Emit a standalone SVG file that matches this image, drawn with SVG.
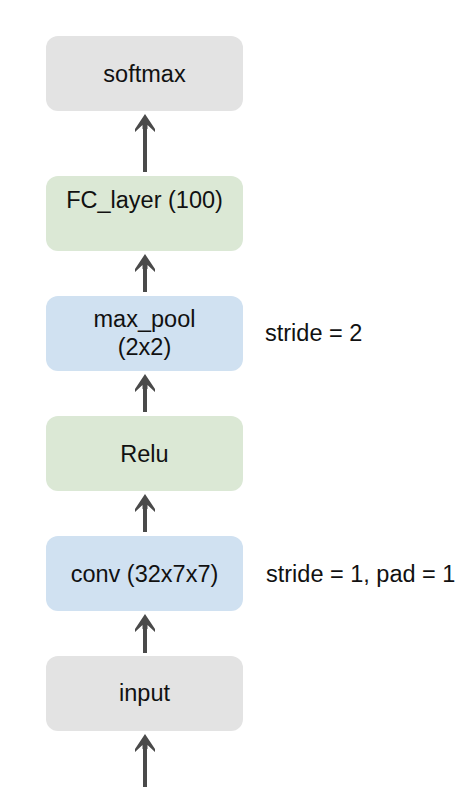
<svg xmlns="http://www.w3.org/2000/svg" width="476" height="804" viewBox="0 0 476 804">
<style>
.box{stroke:none}
.grey{fill:#e3e3e3}
.green{fill:#dbe8d5}
.blue{fill:#d0e1f1}
text{font-family:"Liberation Sans",Arial,sans-serif;font-size:23.5px;fill:#111}
.c{text-anchor:middle}
.ln{stroke:#4a4a4a;stroke-width:4;fill:none}
</style>
<defs>
<path id="head" d="M0,-1 L10,14 L10,17 L2.5,10 L2.5,14 L-2.5,14 L-2.5,10 L-10,17 L-10,14 Z" fill="#4a4a4a"/>
</defs>
<g id="softmax"><rect class="box grey" x="46" y="36" width="197" height="75" rx="12"/><text class="c" x="144.5" y="82">softmax</text></g>
<g id="fc"><rect class="box green" x="46" y="176" width="197" height="75" rx="12"/><text class="c" x="144.5" y="208">FC_layer (100)</text></g>
<g id="maxpool"><rect class="box blue" x="46" y="296" width="197" height="75" rx="12"/><text class="c" x="144.5" y="327">max_pool</text><text class="c" x="144.5" y="355">(2x2)</text></g>
<g id="relu"><rect class="box green" x="46" y="416" width="197" height="75" rx="12"/><text class="c" x="144.5" y="462">Relu</text></g>
<g id="conv"><rect class="box blue" x="46" y="536" width="197" height="75" rx="12"/><text class="c" x="144.5" y="582">conv (32x7x7)</text></g>
<g id="input"><rect class="box grey" x="46" y="656" width="197" height="75" rx="12"/><text class="c" x="144.5" y="701">input</text></g>
<g id="notes"><text x="265" y="341">stride = 2</text><text x="266" y="582">stride = 1, pad = 1</text></g>
<g id="connectors">
<line class="ln" x1="145" y1="125" x2="145" y2="172"/><use href="#head" x="145" y="115"/>
<line class="ln" x1="145" y1="265" x2="145" y2="292"/><use href="#head" x="145" y="255"/>
<line class="ln" x1="145" y1="385" x2="145" y2="412"/><use href="#head" x="145" y="375"/>
<line class="ln" x1="145" y1="505" x2="145" y2="532"/><use href="#head" x="145" y="495"/>
<line class="ln" x1="145" y1="625" x2="145" y2="653"/><use href="#head" x="145" y="615"/>
<line class="ln" x1="145" y1="745" x2="145" y2="787"/><use href="#head" x="145" y="735"/>
</g>
</svg>
